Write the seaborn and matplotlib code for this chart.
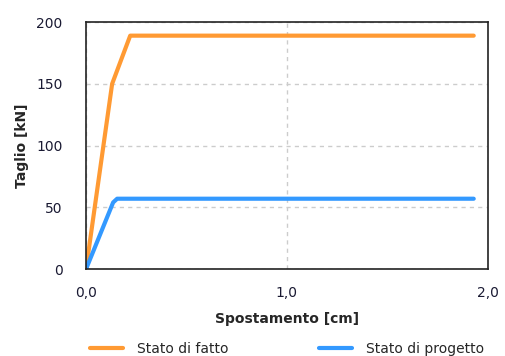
import pandas as pd
import numpy as np
import seaborn as sns
import matplotlib.pyplot as plt
from matplotlib.ticker import FuncFormatter

# dati
x_fatto = [0.0, 0.13, 0.22, 1.93]
y_fatto = [0.0, 150.0, 189.0, 189.0]
x_progetto = [0.0, 0.135, 0.155, 1.93]
y_progetto = [0.0, 54.0, 57.0, 57.0]
serie = ['Stato di fatto', 'Stato di progetto']
colori = ['#FF9A33', '#3399FF']

df = pd.concat([
    pd.DataFrame({'x': x_fatto, 'y': y_fatto, 'serie': serie[0]}),
    pd.DataFrame({'x': x_progetto, 'y': y_progetto, 'serie': serie[1]}),
])

sns.set_style('white')
plt.rcParams['font.family'] = ['DejaVu Sans']

fig = plt.figure(figsize=(5.06, 3.56), dpi=100)
ax = fig.add_axes([0.170, 0.244, 0.794, 0.694])

sns.lineplot(data=df, x='x', y='y', hue='serie', palette=colori, sort=False,
             linewidth=3, ax=ax, legend=False)

ax.set_xlim(0, 2)
ax.set_ylim(0, 200)
ax.set_xticks([0, 1, 2])
ax.set_yticks([0, 50, 100, 150, 200])
ax.xaxis.set_major_formatter(FuncFormatter(lambda v, p: f'{v:.1f}'.replace('.', ',')))
ax.grid(True, color='#cccccc', linestyle=(0, (3, 3)), linewidth=1)
ax.tick_params(axis='both', labelsize=10, colors='#1a1a33', length=3, direction='in')
ax.tick_params(axis='y', pad=17)
ax.tick_params(axis='x', pad=12)
for s in ax.spines.values():
    s.set_color('#222222')
    s.set_linewidth(1.2)

ax.set_xlabel('Spostamento [cm]', fontsize=10, fontweight='bold', labelpad=9)
ax.set_ylabel('Taglio [kN]', fontsize=10, fontweight='bold', labelpad=5)

handles = [plt.Line2D([], [], color=c, lw=3) for c in colori]
fig.legend(handles, serie, loc='center', bbox_to_anchor=(0.567, 0.02), ncol=2,
           frameon=False, fontsize=10, handlelength=2.4, handletextpad=1.0,
           columnspacing=6.5)

fig.savefig('out.png', dpi=100)
